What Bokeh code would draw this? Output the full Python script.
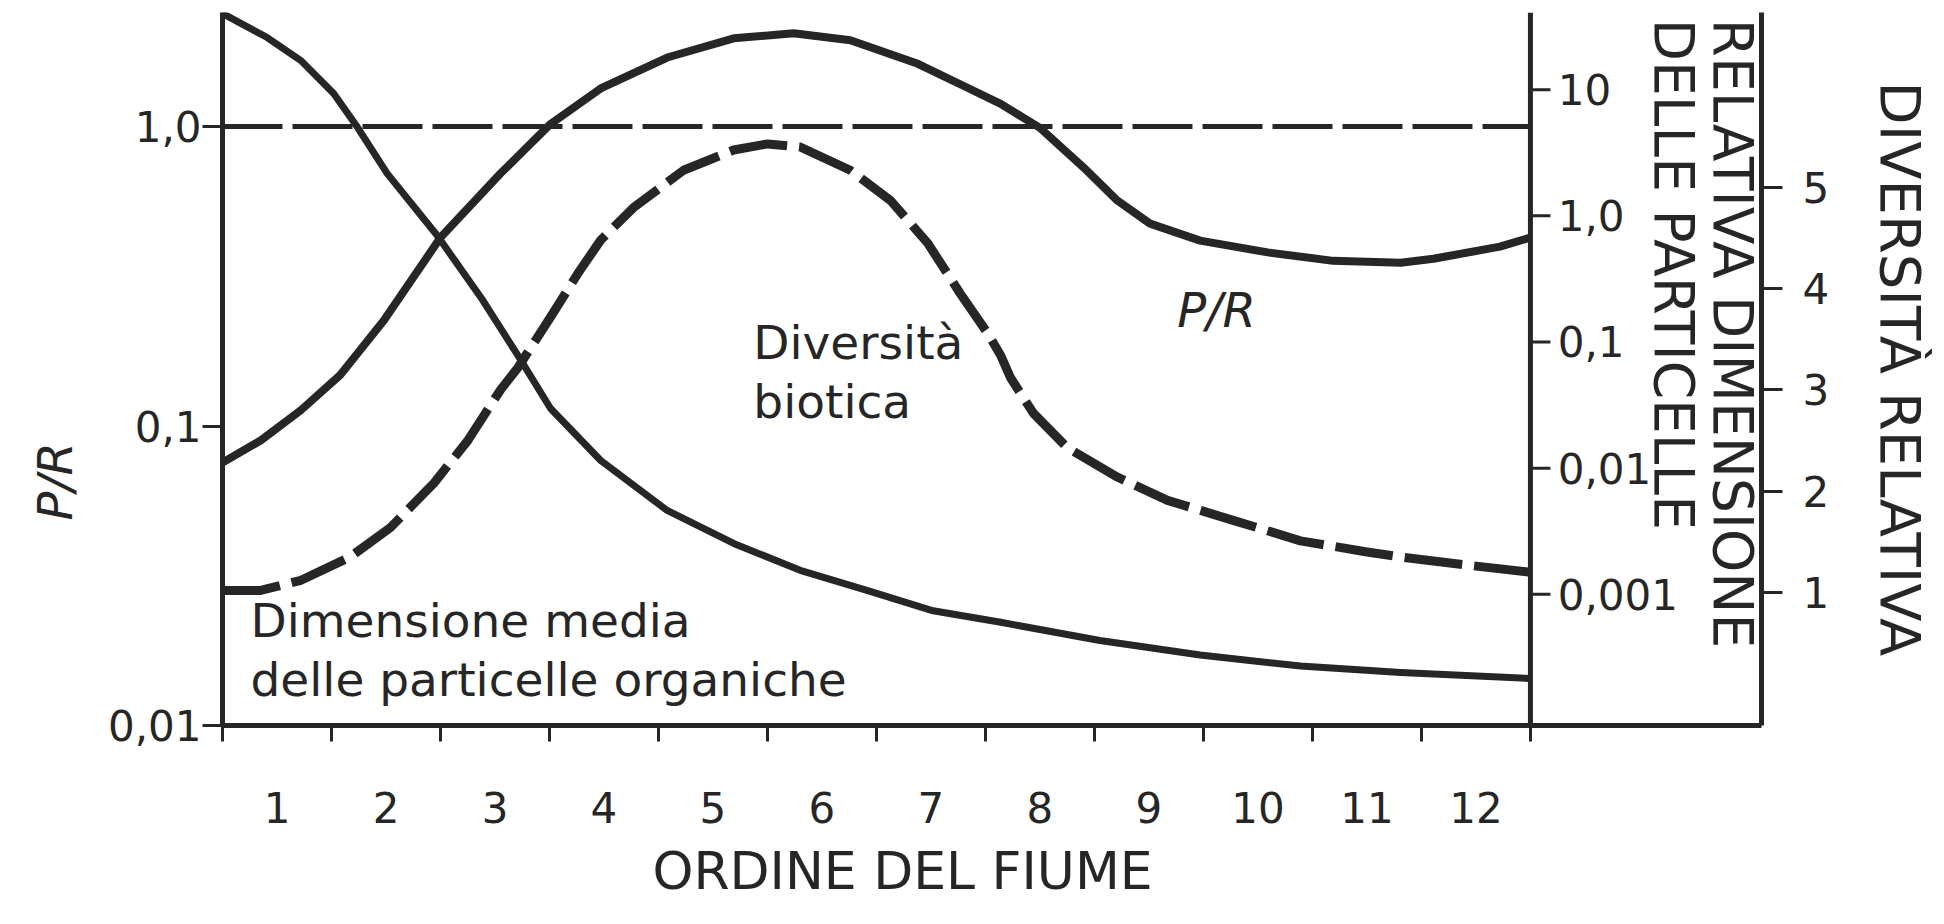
from bokeh.plotting import figure
from bokeh.models import Range1d, LogScale, LinearScale, LinearAxis, FixedTicker, Label, Title
from bokeh.embed import file_html
from bokeh.resources import INLINE
from bokeh.core.properties import value
import math

# ---------------- data ----------------
river_order = list(range(1, 13))
order_labels = [str(o) for o in river_order]

# P/R curve (left log axis)
pr_x = [0.5, 0.85, 1.22, 1.58, 1.98, 2.50, 3.05, 3.51, 3.97, 4.58, 5.19, 5.74, 6.26,
        6.88, 7.33, 7.64, 8.00, 8.40, 8.71, 9.01, 9.47, 10.09, 10.69, 11.31, 11.61, 12.22, 12.5]
pr_val = [0.0755, 0.0895, 0.113, 0.148, 0.225, 0.426, 0.697, 1.02, 1.34, 1.70, 1.97, 2.05, 1.94,
          1.62, 1.35, 1.19, 0.99, 0.73, 0.566, 0.474, 0.416, 0.380, 0.356, 0.351, 0.362, 0.397, 0.426]

# mean size of organic particles (inner right log axis)
part_x = [0.5, 0.91, 1.22, 1.52, 1.74, 2.01, 2.47, 2.89, 3.21, 3.51, 3.97, 4.58, 5.19,
          5.80, 6.42, 7.02, 7.64, 8.55, 9.47, 10.39, 11.31, 12.5]
part_val = [40.2, 25.9, 17.0, 9.33, 5.01, 2.17, 0.698, 0.213, 0.0782, 0.0297, 0.0115, 0.00462, 0.00253,
            0.00155, 0.00107, 0.00074, 0.00060, 0.00043, 0.00033, 0.00027, 0.00024, 0.000215]

# biotic diversity (outer right linear axis)
div_x = [0.5, 0.85, 1.22, 1.67, 2.04, 2.44, 2.75, 3.05, 3.21, 3.51, 3.76, 3.97, 4.27, 4.73,
         5.19, 5.50, 5.80, 6.26, 6.63, 6.97, 7.27, 7.52, 7.64, 7.73, 7.94, 8.25, 8.71, 9.17,
         9.78, 10.39, 11.00, 11.31, 11.92, 12.5]
div_val = [1.02, 1.02, 1.12, 1.35, 1.64, 2.08, 2.50, 3.00, 3.22, 3.72, 4.15, 4.48, 4.80, 5.17,
           5.37, 5.43, 5.40, 5.17, 4.87, 4.45, 3.95, 3.56, 3.34, 3.12, 2.77, 2.43, 2.14, 1.91,
           1.71, 1.51, 1.40, 1.35, 1.27, 1.20]

pr_ref = 1.0
pr_ticks = [0.01, 0.1, 1.0]
pr_tick_labels = ["0,01", "0,1", "1,0"]
part_ticks = [10, 1, 0.1, 0.01, 0.001]
part_tick_labels = ["10", "1,0", "0,1", "0,01", "0,001"]
div_ticks = [1, 2, 3, 4, 5]

# ---------------- styling ----------------
INK = "#262626"
FONT = "DejaVu Sans"

x_lo = river_order[0] - 0.5
x_inner = river_order[-1] + 0.5
x_hi = 14.62

pr_range = (0.01, 2.403)
part_range = (9.12e-5, 40.9)
div_range = (-0.314, 6.728)

p = figure(
    x_range=Range1d(x_lo, x_hi), y_range=Range1d(*pr_range), y_axis_type="log",
    frame_width=1539, frame_height=713,
    min_border_left=222, min_border_top=12, min_border_right=0, min_border_bottom=190,
    output_backend="svg", toolbar_location=None,
)
p.extra_y_ranges = {"part": Range1d(*part_range), "div": Range1d(*div_range)}
p.extra_y_scales = {"part": LogScale(), "div": LinearScale()}
p.grid.visible = False
p.outline_line_color = None
p.background_fill_color = "white"
p.border_fill_color = "white"

# bottom axis
xa = p.xaxis[0]
xa.ticker = FixedTicker(ticks=river_order,
                        minor_ticks=[o - 0.5 for o in river_order] + [river_order[-1] + 0.5])
xa.major_label_overrides = {o: l for o, l in zip(river_order, order_labels)}
xa.major_tick_out = 0
xa.major_tick_in = 0
xa.minor_tick_out = 16
xa.minor_tick_in = 0
xa.minor_tick_line_width = 3
xa.minor_tick_line_color = INK
xa.axis_line_width = 5
xa.axis_line_color = INK
xa.major_label_standoff = 50
xa.major_label_text_font = FONT
xa.major_label_text_font_size = "42px"
xa.major_label_text_color = INK

# left axis
ya = p.yaxis[0]
ya.ticker = FixedTicker(ticks=pr_ticks)
ya.major_label_overrides = {t: l for t, l in zip(pr_ticks, pr_tick_labels)}
ya.major_tick_out = 20
ya.major_tick_in = 0
ya.major_tick_line_width = 3
ya.major_tick_line_color = INK
ya.minor_tick_out = 0
ya.minor_tick_in = 0
ya.axis_line_width = 5
ya.axis_line_color = INK
ya.major_label_standoff = 1
ya.major_label_text_font = FONT
ya.major_label_text_font_size = "42px"
ya.major_label_text_color = INK

# outer right axis: diversity
da = LinearAxis(y_range_name="div", ticker=FixedTicker(ticks=div_ticks),
                axis_label="DIVERSITÀ RELATIVA")
da.major_tick_out = 21
da.major_tick_in = 0
da.major_tick_line_width = 3
da.major_tick_line_color = INK
da.minor_tick_out = 0
da.axis_line_width = 5
da.axis_line_color = INK
da.major_label_standoff = 20
da.major_label_text_font = FONT
da.major_label_text_font_size = "42px"
da.major_label_text_color = INK
da.axis_label_text_font = FONT
da.axis_label_text_font_size = "56px"
da.axis_label_text_font_style = "normal"
da.axis_label_text_color = INK
da.axis_label_standoff = 36
p.add_layout(da, "right")

# axis titles placed in side panels
p.add_layout(Title(text="P/R", text_font=FONT, text_font_size="48px", text_font_style="italic",
                   text_color=INK, align="left", offset=205, standoff=44), "left")
p.add_layout(Title(text="ORDINE DEL FIUME", text_font=FONT, text_font_size="52px",
                   text_font_style="normal", text_color=INK, align="left", offset=430,
                   standoff=27), "below")

# inner right axis: relative particle size (drawn at the last order boundary)
p.segment(x0=[x_inner], y0=[part_range[0]], x1=[x_inner], y1=[part_range[1]],
          y_range_name="part", line_width=5, line_color=INK)
tick_len = 20 / 109
p.segment(x0=[x_inner] * len(part_ticks), x1=[x_inner + tick_len] * len(part_ticks),
          y0=part_ticks, y1=part_ticks, y_range_name="part", line_width=3, line_color=INK)
p.text(x=[x_inner + 0.25] * len(part_ticks), y=part_ticks, text=part_tick_labels,
       y_range_name="part", text_font=value(FONT), text_font_size=value("42px"),
       text_color=INK, text_align="left", text_baseline="middle")

# reference P/R = 1 line
p.segment(x0=[x_lo], x1=[x_inner], y0=[pr_ref], y1=[pr_ref],
          line_width=5, line_color=INK, line_dash="60 10")

# curves
p.line(pr_x, pr_val, line_width=8, line_color=INK, line_join="round")
p.line(part_x, part_val, y_range_name="part", line_width=7, line_color=INK, line_join="round")
p.line(div_x, div_val, y_range_name="div", line_width=9, line_color=INK,
       line_dash="58 12", line_join="round")

# text annotations (anchored at the vertical middle of the letters)
def lab(x, y, t, size, style="normal", angle=0.0):
    p.add_layout(Label(x=x, y=y, text=t, text_font=FONT, text_font_size=size,
                       text_font_style=style, text_color=INK, angle=angle,
                       text_align="left", text_baseline="middle"))

lab(0.757, 0.02241, "Dimensione media", "47px")
lab(0.757, 0.01424, "delle particelle organiche", "47px")
lab(5.37, 0.1907, "Diversità", "47px")
lab(5.37, 0.1212, "biotica", "47px")
lab(9.26, 0.2449, "P/R", "48px", style="italic")
lab(14.36, 2.29, "RELATIVA DIMENSIONE", "55px", angle=-math.pi / 2)
lab(13.82, 2.29, "DELLE PARTICELLE", "55px", angle=-math.pi / 2)

open("out.html", "w").write(file_html(p, INLINE))
